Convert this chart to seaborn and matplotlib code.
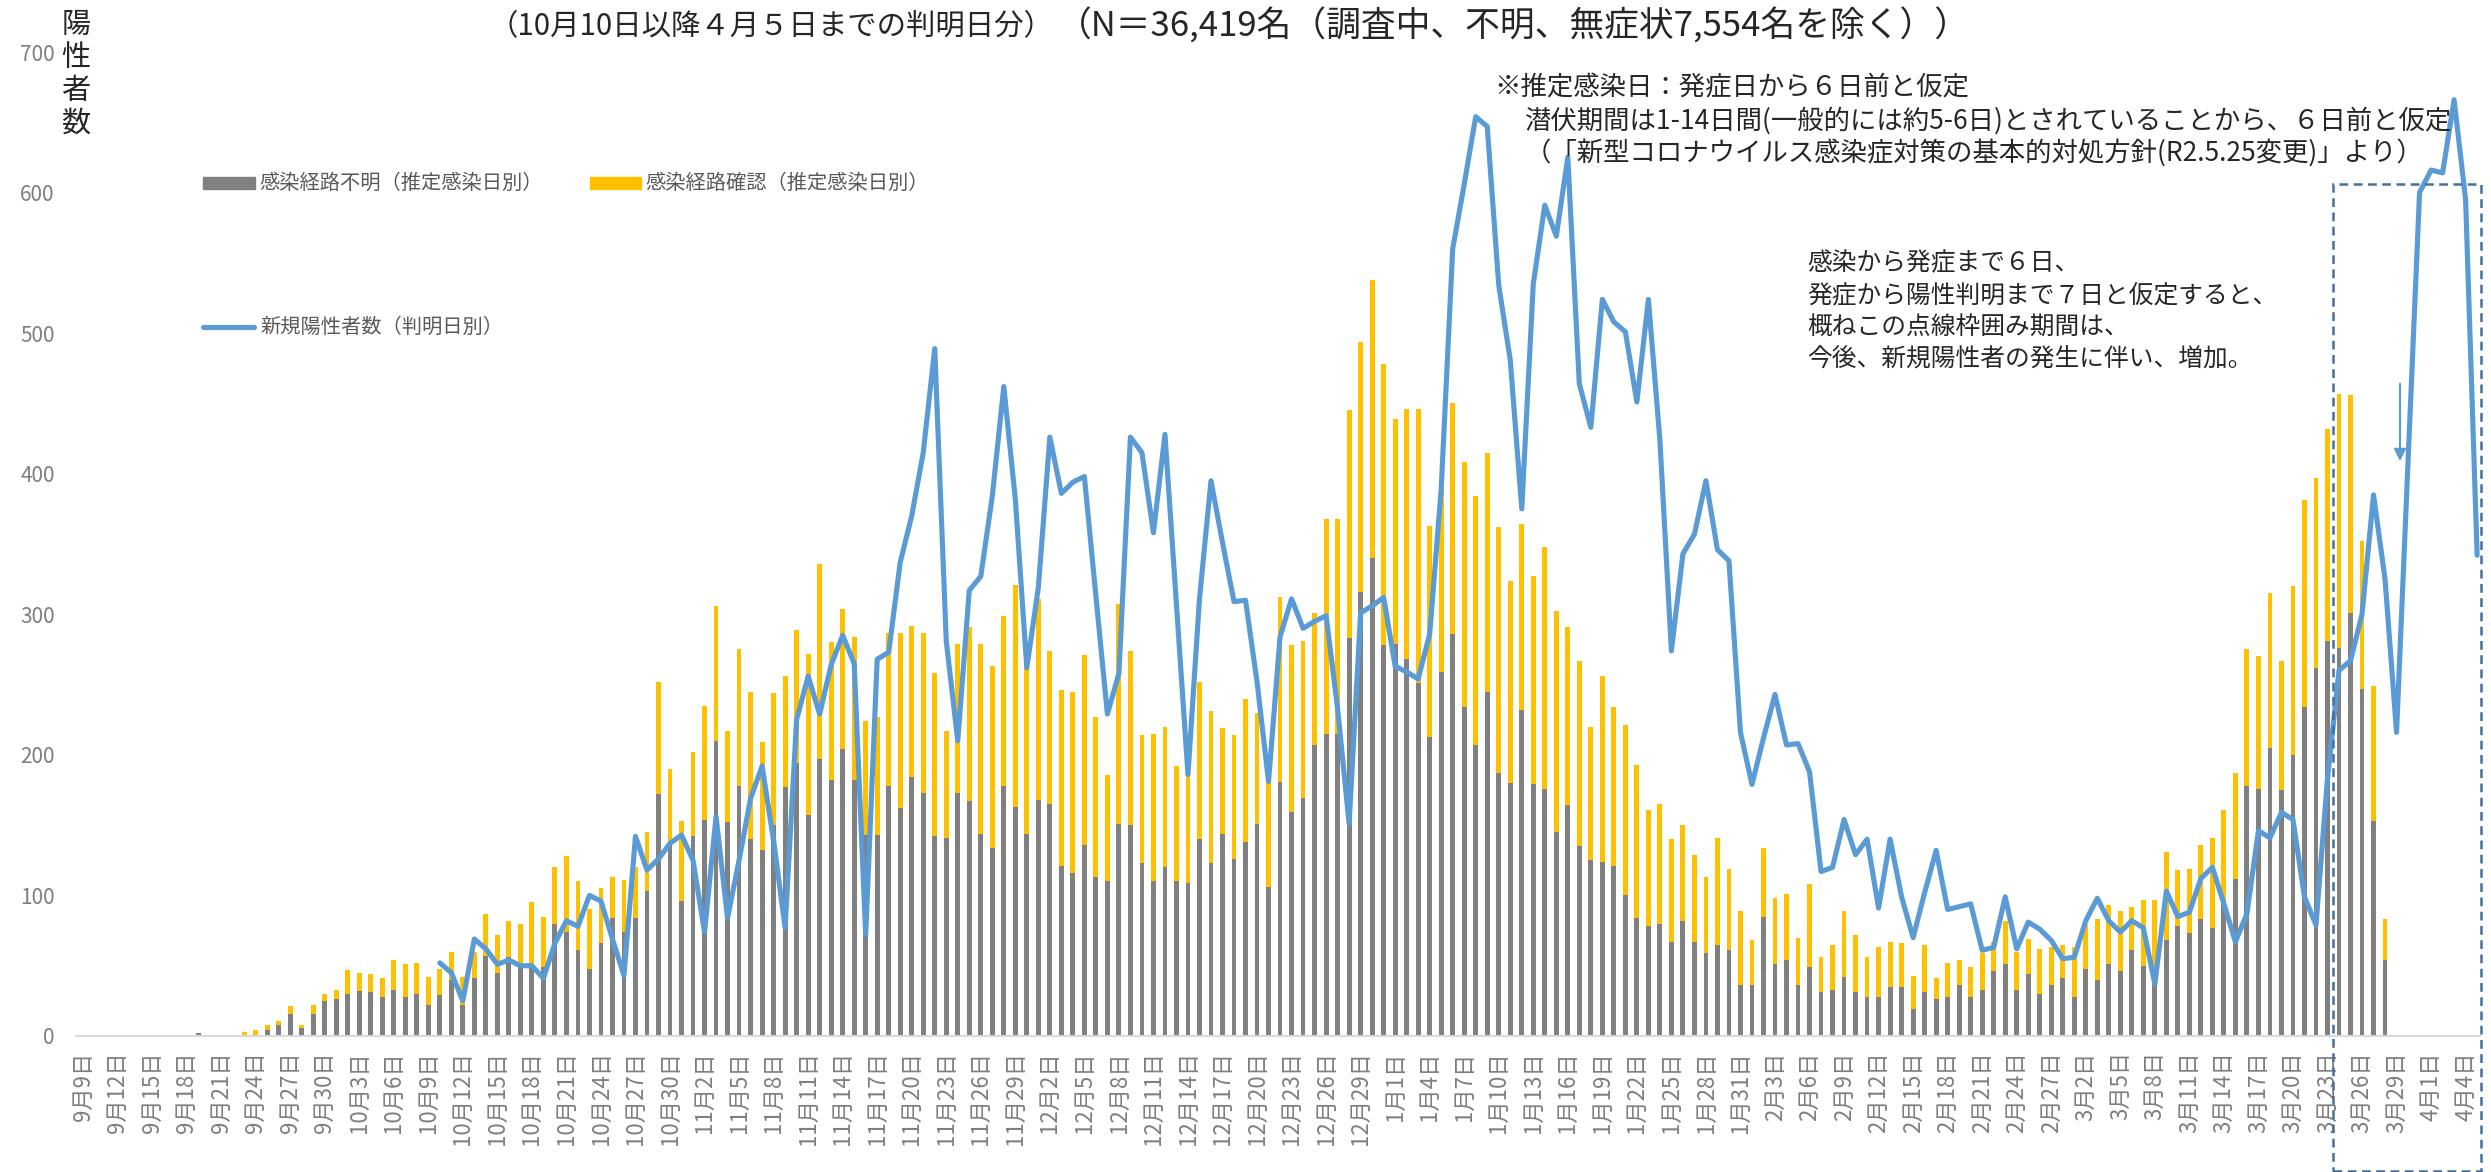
import numpy as np
import pandas as pd
import matplotlib
matplotlib.use('Agg')
import matplotlib.pyplot as plt
import seaborn as sns
from matplotlib.patches import Rectangle
from matplotlib.lines import Line2D

# ── Data ───────────────────────────────────────────────────────────────────
dates = pd.date_range('2020-09-09', '2021-04-05')
day_labels = [f'{d.month}月{d.day}日' for d in dates]

# 感染経路不明（推定感染日別） - gray part of each bar
unknown = (
    [1, 0, 0, 0, 0, 1, 1, 0, 0, 0, 2, 1, 0, 1, 1, 1, 4, 8, 16, 6, 16, 25]                       # Sep 9-30
    + [26, 30, 32, 31, 28, 33, 28, 30, 22, 29, 40, 22, 41, 57, 45, 56, 51, 51, 49, 80,
       74, 61, 48, 66, 84, 74, 84, 103, 172, 136, 96]                                           # Oct
    + [142, 154, 210, 152, 178, 140, 132, 150, 177, 194, 157, 197, 182, 204, 182, 143, 143, 178,
       162, 184, 173, 142, 141, 173, 167, 144, 134, 178, 163, 144]                              # Nov
    + [168, 165, 121, 116, 136, 113, 110, 151, 150, 123, 110, 120, 110, 109, 140, 123, 144, 126,
       138, 151, 106, 181, 159, 169, 207, 215, 215, 283, 316, 340, 278]                         # Dec
    + [279, 268, 251, 213, 259, 286, 234, 207, 245, 187, 180, 232, 179, 176, 145, 164, 135, 125,
       124, 121, 100, 84, 78, 80, 67, 82, 67, 59, 65, 61, 36]                                   # Jan
    + [36, 85, 51, 54, 36, 49, 31, 33, 42, 31, 28, 28, 35, 35, 19, 31, 26, 28, 36, 28,
       33, 46, 51, 33, 44, 30, 36, 41]                                                          # Feb
    + [28, 48, 40, 51, 46, 61, 50, 37, 68, 78, 73, 83, 77, 95, 112, 178, 176, 205, 175, 200,
       234, 262, 281, 276, 301, 247, 153, 54, 0, 0, 0]                                          # Mar
    + [0, 0, 0, 0, 0]                                                                           # Apr
)

# bar top = 感染経路不明 + 感染経路確認
total = (
    [1, 0, 0, 0, 0, 1, 1, 0, 0, 0, 2, 1, 0, 1, 3, 4, 8, 11, 21, 8, 22, 30]
    + [33, 47, 45, 44, 41, 54, 51, 52, 42, 48, 60, 42, 60, 87, 72, 82, 80, 95, 85, 120,
       128, 110, 90, 105, 113, 111, 120, 145, 252, 190, 153]
    + [202, 235, 306, 217, 275, 245, 209, 244, 256, 289, 272, 336, 280, 304, 284, 224, 227, 287,
       287, 292, 287, 258, 217, 279, 291, 279, 263, 299, 321, 265]
    + [311, 274, 246, 245, 271, 227, 186, 307, 274, 214, 215, 220, 192, 190, 252, 231, 219, 214,
       240, 230, 184, 312, 278, 281, 301, 368, 368, 445, 494, 538, 478]
    + [439, 446, 446, 363, 395, 450, 408, 384, 415, 362, 324, 364, 327, 348, 302, 291, 267, 220,
       256, 234, 221, 193, 161, 165, 140, 150, 129, 113, 141, 119, 89]
    + [68, 134, 98, 101, 70, 108, 56, 65, 89, 72, 56, 63, 67, 66, 43, 65, 41, 52, 54, 49,
       59, 67, 82, 60, 69, 62, 63, 65]
    + [63, 79, 83, 93, 89, 92, 97, 97, 131, 118, 119, 136, 141, 161, 187, 275, 270, 315, 267, 320,
       381, 397, 432, 457, 456, 352, 249, 83, 0, 0, 0]
    + [0, 0, 0, 0, 0]
)

# 新規陽性者数（判明日別） from 10月10日
line_start = '2020-10-10'
new_cases = (
    [52, 45, 25, 69, 62, 51, 54, 50, 50, 41, 66, 82, 78, 100, 96, 69, 43, 142, 118, 126, 137, 143]
    + [125, 74, 156, 84, 125, 169, 192, 139, 77, 225, 256, 229, 264, 285, 265, 72, 268, 273,
       337, 370, 415, 489, 281, 210, 317, 327, 384, 462, 382, 262]
    + [319, 426, 386, 394, 398, 313, 229, 258, 426, 415, 358, 428, 307, 186, 311, 395, 351, 309,
       310, 252, 181, 284, 311, 290, 295, 299, 233, 151, 301, 306, 312]
    + [263, 259, 254, 286, 389, 560, 606, 654, 647, 534, 481, 375, 535, 591, 569, 625, 464, 433,
       524, 508, 501, 451, 524, 424, 274, 343, 357, 395, 346, 338, 216]
    + [179, 212, 243, 207, 208, 188, 117, 120, 154, 129, 140, 91, 140, 99, 70, 102, 132, 90,
       92, 94, 61, 63, 99, 62, 81, 76, 68, 55]
    + [56, 82, 98, 82, 74, 82, 77, 37, 103, 85, 88, 112, 120, 94, 67, 87, 146, 141, 159, 154,
       99, 79, 183, 260, 267, 300, 385, 325, 216, 409, 600]
    + [616, 614, 666, 595, 342]
)

GRAY = '#808080'
GOLD = '#FFC000'
BLUE = '#5B9BD5'
BOX = '#41719C'

df = pd.DataFrame({'pos': np.arange(len(dates)), 'total': total, 'unknown': unknown})
line_pos = np.arange(len(new_cases)) + int((pd.Timestamp(line_start) - dates[0]).days)

# ── Figure ─────────────────────────────────────────────────────────────────
sns.set_style('white')
plt.rcParams['font.family'] = ['Noto Sans CJK JP', 'DejaVu Sans']

W, H = 2491, 1172
fig = plt.figure(figsize=(W / 100, H / 100), dpi=100)
ax = fig.add_axes([75.5 / W, 1 - 1036 / H, (2480 - 75.5) / W, (1036 - 52) / H])

sns.barplot(data=df, x='pos', y='total', native_scale=True, width=0.42, color=GOLD,
            saturation=1, errorbar=None, linewidth=0, ax=ax)
sns.barplot(data=df, x='pos', y='unknown', native_scale=True, width=0.42, color=GRAY,
            saturation=1, errorbar=None, linewidth=0, ax=ax)
sns.lineplot(x=line_pos, y=new_cases, color=BLUE, linewidth=3.7, ax=ax,
             solid_joinstyle='round', solid_capstyle='round', zorder=5)

ax.set_xlim(-0.65, 208.25)
ax.set_ylim(0, 700)
ax.set_yticks(range(0, 701, 100))
ax.set_xticks(df['pos'][::3])
ax.set_xticklabels(day_labels[::3], rotation=90, fontsize=16, color='#7F7F7F')
ax.tick_params(axis='x', length=0, pad=11)
ax.tick_params(axis='y', length=0, pad=15, labelsize=15, labelcolor='#7F7F7F')
ax.set_xlabel('')
ax.set_ylabel('')
for s in ['top', 'right', 'left']:
    ax.spines[s].set_visible(False)
ax.spines['bottom'].set_color('#D9D9D9')
ax.spines['bottom'].set_linewidth(1.5)

# dotted box round the still-growing period
ax.add_patch(Rectangle((195.5, -96), 208.3 - 195.5, 606 + 96, fill=False, edgecolor=BOX,
                       linewidth=1.8, linestyle=(0, (3.5, 2.2)), clip_on=False, zorder=6))

# small arrow at 3月29日
ax.annotate('', xy=(201.3, 407), xytext=(201.3, 466),
            arrowprops=dict(arrowstyle='-|>', color=BLUE, lw=1.5, mutation_scale=18))


def px(x, y):
    return x / W, 1 - y / H


# ── Texts ──────────────────────────────────────────────────────────────────
fig.text(*px(489, 27), '（10月10日以降４月５日までの判明日分）', fontsize=21.2, va='center')
fig.text(*px(1057, 27), '（N＝36,419名（調査中、不明、無症状7,554名を除く））', fontsize=25, va='center')

fig.text(*px(76, 10), '陽\n性\n者\n数', fontsize=21, ha='center', va='top', linespacing=1.12)

fig.text(*px(1494, 88), '※推定感染日：発症日から６日前と仮定', fontsize=19, va='center')
fig.text(*px(1525, 121), '潜伏期間は1-14日間(一般的には約5-6日)とされていることから、６日前と仮定',
         fontsize=19, va='center')
fig.text(*px(1525, 153), '（「新型コロナウイルス感染症対策の基本的対処方針(R2.5.25変更)」より）',
         fontsize=19, va='center')

notes = ['感染から発症まで６日、', '発症から陽性判明まで７日と仮定すると、',
         '概ねこの点線枠囲み期間は、', '今後、新規陽性者の発生に伴い、増加。']
for i, t in enumerate(notes):
    fig.text(*px(1807, 263 + 32 * i), t, fontsize=17.8, va='center')

# legend
fig.add_artist(Rectangle(px(203, 189), 52 / W, 12 / H, color=GRAY, transform=fig.transFigure))
fig.text(*px(259, 183), '感染経路不明（推定感染日別）', fontsize=14.6, va='center', color='#595959')
fig.add_artist(Rectangle(px(590, 189), 51 / W, 12 / H, color=GOLD, transform=fig.transFigure))
fig.text(*px(645, 183), '感染経路確認（推定感染日別）', fontsize=14.6, va='center', color='#595959')
fig.add_artist(Line2D([203 / W, 254 / W], [1 - 327 / H, 1 - 327 / H], color=BLUE, linewidth=3.7,
                      solid_capstyle='round', transform=fig.transFigure))
fig.text(*px(260, 327), '新規陽性者数（判明日別）', fontsize=14.6, va='center', color='#595959')

fig.savefig('out.png', dpi=100)
